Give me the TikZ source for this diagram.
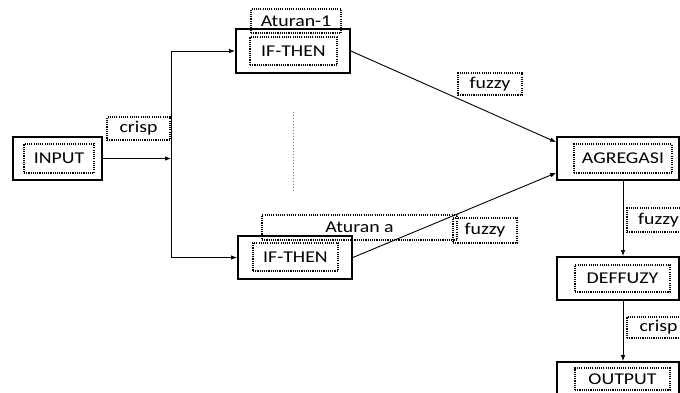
\documentclass[tikz,border=0pt]{standalone}
\usepackage{fontspec}
\setmainfont[FakeStretch=1.2]{Carlito}
\usetikzlibrary{arrows.meta}
\tikzset{
  outerbox/.style={draw, line width=1.7pt, inner sep=0pt},
  dotbox/.style={draw, line width=1.2pt, dash pattern=on 1.1pt off 1.1pt, inner sep=0pt,
     font=\fontsize{16.5}{19}\selectfont, text=black},
  conn/.style={line width=0.9pt, -{Latex[length=6pt,width=4.5pt]}},
  plain/.style={line width=0.9pt},
}
\begin{document}
\begin{tikzpicture}[x=1pt,y=-1pt]
\useasboundingbox (0,0) rectangle (680,392);
\clip (0,0) rectangle (680,392);
% INPUT
\node[outerbox, minimum width=89pt, minimum height=43pt] (inO) at (57.5,158.5) {};
\node[dotbox, minimum width=70pt, minimum height=29pt] (inI) at (59,158.5) {INPUT};
\node[dotbox, minimum width=63pt, minimum height=23pt] (crisp1) at (138.5,128.5) {crisp};
% Rule 1
\node[outerbox, minimum width=114pt, minimum height=44pt] (r1O) at (293,51) {};
\node[dotbox, minimum width=87pt, minimum height=28pt] (r1I) at (293.5,51) {IF-THEN};
\node[dotbox, minimum width=90pt, minimum height=24pt] (at1) at (296,21) {Aturan-1};
% Rule a
\node[outerbox, minimum width=114pt, minimum height=43pt] (raO) at (295,257.5) {};
\node[dotbox, minimum width=85pt, minimum height=28pt] (raI) at (295.5,257) {IF-THEN};
\node[dotbox, minimum width=195pt, minimum height=25pt] (ata) at (359.5,227.5) {Aturan a};
\node[dotbox, minimum width=64pt, minimum height=25pt] (fz2) at (485,230.5) {fuzzy};
\node[dotbox, minimum width=64pt, minimum height=22pt] (fz1) at (490,84) {fuzzy};
% dotted separator
\draw[line width=1pt, dotted, black!50] (293,112) -- (293,192);
% right column
\node[outerbox, minimum width=122pt, minimum height=43pt] (agO) at (618,158.5) {};
\node[dotbox, minimum width=98pt, minimum height=29pt] (agI) at (623,158.5) {AGREGASI};
\node[outerbox, minimum width=122pt, minimum height=43pt] (deO) at (618,278.5) {};
\node[dotbox, minimum width=95pt, minimum height=27pt] (deI) at (622.5,278.5) {DEFFUZY};
\node[outerbox, minimum width=122pt, minimum height=43pt] (ouO) at (618,383.5) {};
\node[dotbox, minimum width=95pt, minimum height=22pt] (ouI) at (622.5,379) {OUTPUT};
\node[dotbox, minimum width=63pt, minimum height=24pt] (fz3) at (658.5,220) {fuzzy};
\node[dotbox, minimum width=63pt, minimum height=21pt] (crisp2) at (658.5,327.5) {crisp};
% connectors
\coordinate (busT) at (171,51);
\coordinate (busM) at (171,158.5);
\coordinate (busB) at (171,257.5);
\draw[conn] (inO.east) -- (busM);
\draw[plain] (busT) -- (busB);
\draw[conn] (busT) -- (r1O.west);
\draw[conn] (busB) -- (raO.west);
\draw[conn] (r1O.east) -- ([yshift=-6pt]agO.north west);
\draw[conn] (raO.east) -- ([yshift=8pt]agO.south west);
\draw[conn] (agO.south -| agI.south) -- (deO.north -| agI.south);
\draw[conn] (deO.south -| agI.south) -- (ouO.north -| agI.south);
\end{tikzpicture}
\end{document}
